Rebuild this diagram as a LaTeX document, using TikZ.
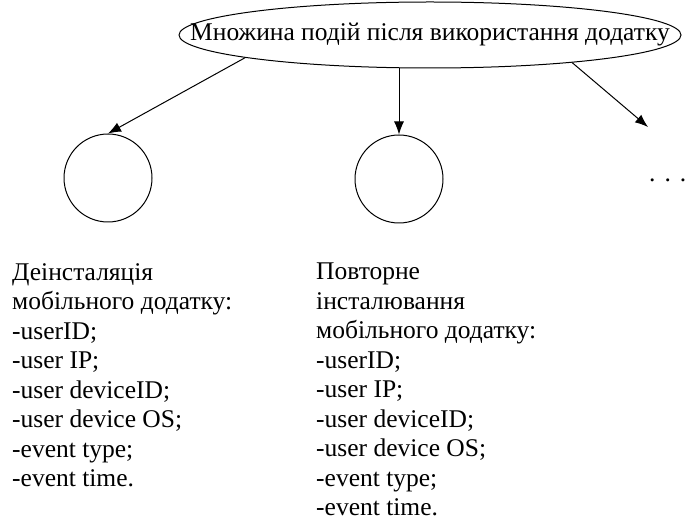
\documentclass[tikz,border=0pt]{standalone}
\usepackage{fontspec}
\setmainfont{Liberation Serif}
\usepackage{tikz}
\usetikzlibrary{shapes,arrows.meta,positioning,calc}

\begin{document}
\begin{tikzpicture}[x=1pt, y=-1pt, font=\fontsize{25.5}{29.5}\selectfont,
    event/.style={draw, circle, line width=1pt, minimum size=88pt, inner sep=0pt},
    arr/.style={line width=1pt, -{Latex[length=13pt,width=10pt]}},
    info/.style={anchor=north west, align=left, inner sep=0pt}]
  \useasboundingbox (0,0) rectangle (685,529);
  % set of events
  \node[draw, ellipse, line width=1pt, minimum width=502pt, minimum height=66pt, inner sep=0pt] (set) at (430,35) {};
  \node (settext) at (set.center) {Множина подій після використання додатку};
  % events
  \node[event] (uninst) at (108,178) {};
  \node[event] (reinst) at (399,179) {};
  \coordinate (more) at (648,127);
  \node[anchor=base west, inner sep=0pt] (dots) at (649,182) {.\hspace{9pt}.\hspace{9pt}.};
  % arrows
  \draw[arr] (set.187) -- (uninst.north);
  \draw[arr] (set.south -| reinst.north) -- (reinst.north);
  \draw[arr] (set.-11) -- (more);
  % descriptions
  \node[info] (uninsttext) at (12,263) {Деінсталяція\\мобільного додатку:\\-userID;\\-user IP;\\-user deviceID;\\-user device OS;\\-event type;\\-event time.};
  \node[info] (reinsttext) at (316,263) {Повторне\\інсталювання\\мобільного додатку:\\-userID;\\-user IP;\\-user deviceID;\\-user device OS;\\-event type;\\-event time.};
\end{tikzpicture}
\end{document}
